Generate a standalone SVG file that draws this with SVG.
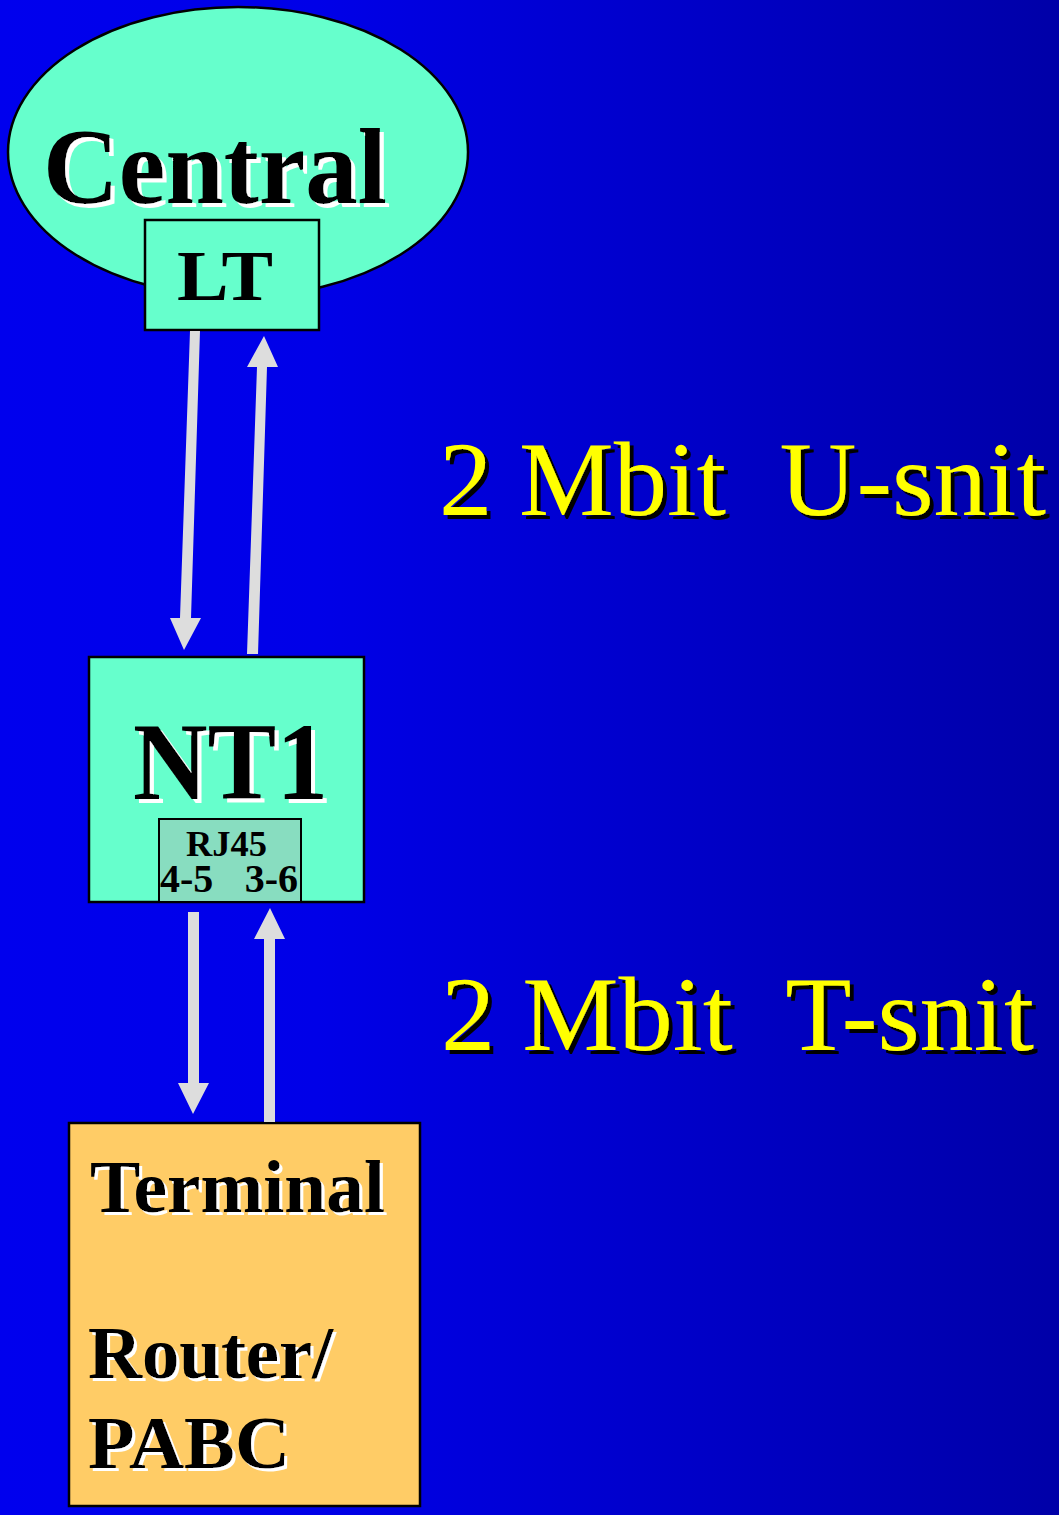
<svg xmlns="http://www.w3.org/2000/svg" width="1059" height="1515" viewBox="0 0 1059 1515">
  <defs>
    <linearGradient id="bg" x1="0" y1="0" x2="1" y2="0">
      <stop offset="0" stop-color="#0000EE"/>
      <stop offset="0.3" stop-color="#0000E8"/>
      <stop offset="1" stop-color="#0000A8"/>
    </linearGradient>
    <filter id="wsh4" x="-5%" y="-10%" width="115%" height="130%">
      <feOffset in="SourceAlpha" dx="4" dy="4" result="o"/>
      <feFlood flood-color="#FFFFFF"/>
      <feComposite in2="o" operator="in" result="s"/>
      <feMerge><feMergeNode in="s"/><feMergeNode in="SourceGraphic"/></feMerge>
    </filter>
    <filter id="wsh2" x="-5%" y="-10%" width="115%" height="130%">
      <feOffset in="SourceAlpha" dx="2.5" dy="2.5" result="o"/>
      <feFlood flood-color="#FFFFFF"/>
      <feComposite in2="o" operator="in" result="s"/>
      <feMerge><feMergeNode in="s"/><feMergeNode in="SourceGraphic"/></feMerge>
    </filter>
    <filter id="bsh4" x="-5%" y="-10%" width="115%" height="130%">
      <feOffset in="SourceAlpha" dx="4" dy="4" result="o"/>
      <feFlood flood-color="#000000"/>
      <feComposite in2="o" operator="in" result="s"/>
      <feMerge><feMergeNode in="s"/><feMergeNode in="SourceGraphic"/></feMerge>
    </filter>
  </defs>
  <style>
    .box { stroke: #000; stroke-width: 2.5; }
    .teal { fill: #66FFCC; }
    .lbl { font-family: "Liberation Serif", "Times New Roman", serif; font-weight: bold; fill: #000; }
    .yel { font-family: "Liberation Serif", "Times New Roman", serif; fill: #FFFF00; filter: url(#bsh4); }
    .sh4 { filter: url(#wsh4); }
    .sh2 { filter: url(#wsh2); }
    .arrow { fill: #DDDDDD; }
  </style>
  <rect x="0" y="0" width="1059" height="1515" fill="url(#bg)"/>

  <g id="central">
    <ellipse class="box teal" cx="238" cy="152" rx="230" ry="145"/>
    <text class="lbl sh4" x="43" y="203" font-size="108" textLength="344" lengthAdjust="spacingAndGlyphs">Central</text>
  </g>

  <g id="lt">
    <rect class="box teal" x="145" y="220" width="174" height="110"/>
    <text class="lbl" x="177" y="300" font-size="72" textLength="96" lengthAdjust="spacingAndGlyphs">LT</text>
  </g>

  <g id="nt1">
    <rect class="box teal" x="89" y="657" width="275" height="245"/>
    <text class="lbl sh4" x="133" y="799" font-size="110" textLength="195" lengthAdjust="spacingAndGlyphs">NT1</text>
  </g>

  <g id="rj45">
    <rect x="159" y="819" width="142" height="83" fill="#88DDC0" stroke="#000" stroke-width="2"/>
    <text class="lbl" x="186" y="856" font-size="36" textLength="81" lengthAdjust="spacingAndGlyphs">RJ45</text>
    <text class="lbl" x="160" y="892" font-size="40">4-5</text>
    <text class="lbl" x="298" y="892" font-size="40" text-anchor="end">3-6</text>
  </g>

  <g id="terminal">
    <rect class="box" x="69" y="1123" width="351" height="383" fill="#FFCC66"/>
    <text class="lbl sh2" x="90" y="1212" font-size="73" textLength="295" lengthAdjust="spacingAndGlyphs">Terminal</text>
    <text class="lbl sh2" x="88" y="1378" font-size="73" textLength="245" lengthAdjust="spacingAndGlyphs">Router/</text>
    <text class="lbl sh2" x="88" y="1468" font-size="73" textLength="202" lengthAdjust="spacingAndGlyphs">PABC</text>
  </g>

  <g id="connectors">
    <polygon class="arrow" points="190,331 200,331 191,618 201,618 184,650 170,618 180,618"/>
    <polygon class="arrow" points="247,654 258,654 267,367 278,367 264,336 247,367 257,367"/>
    <polygon class="arrow" points="188,912 199,912 199,1083 209,1083 193,1114 178,1083 188,1083"/>
    <polygon class="arrow" points="264,1122 275,1122 275,939 285,939 270,908 254,939 264,939"/>
  </g>

  <g id="u-label">
    <text class="yel" x="439" y="515" font-size="106" textLength="607" lengthAdjust="spacingAndGlyphs" xml:space="preserve">2 Mbit  U-snit</text>
  </g>

  <g id="t-label">
    <text class="yel" x="441" y="1050" font-size="106" textLength="593" lengthAdjust="spacingAndGlyphs" xml:space="preserve">2 Mbit  T-snit</text>
  </g>
</svg>
